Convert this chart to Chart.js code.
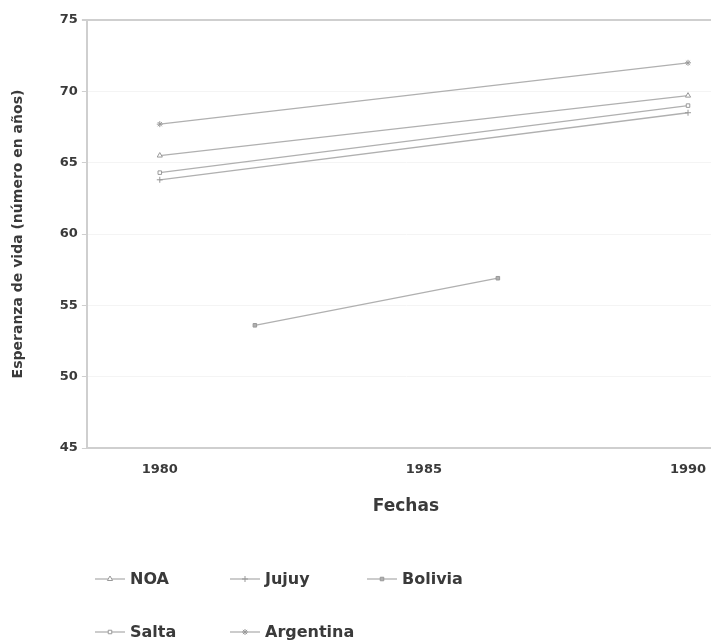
<!DOCTYPE html>
<html><head><meta charset="utf-8">
<script src="https://cdn.jsdelivr.net/npm/chart.js@4.4.1/dist/chart.umd.min.js"></script>
<style>html,body{margin:0;padding:0;background:#fff;overflow:hidden}#wrap{width:711px;height:641px;position:relative;overflow:hidden}</style>
</head><body><div id="wrap"><canvas id="c" width="730" height="641"></canvas></div>
<script>
const seriesNames = ["NOA", "Jujuy", "Bolivia", "Salta", "Argentina"];
const yearsMain = [1980, 1990];
const yearsBolivia = [1981.8, 1986.4];
const noaValues = [65.5, 69.7];
const jujuyValues = [63.8, 68.5];
const boliviaValues = [53.6, 56.9];
const saltaValues = [64.3, 69.0];
const argentinaValues = [67.7, 72.0];
const xTickValues = [1980, 1985, 1990];
const yTickValues = [45, 50, 55, 60, 65, 70, 75];

const lineColor = '#b0b0b0';
const textColor = '#3a3a3a';
const FONT = "'DejaVu Sans', sans-serif";

function pts(xs, ys){ return xs.map((x,i)=>({x:x, y:ys[i]})); }
const styles = [
  {pointStyle:'triangle', radius:3, fill:'#fff'},
  {pointStyle:'cross', radius:3, fill:'#fff'},
  {pointStyle:'rect', radius:2.5, fill:lineColor},
  {pointStyle:'rect', radius:2.5, fill:'#fff'},
  {pointStyle:'star', radius:3, fill:'#fff'}
];
const dataArrays = [pts(yearsMain,noaValues), pts(yearsMain,jujuyValues), pts(yearsBolivia,boliviaValues), pts(yearsMain,saltaValues), pts(yearsMain,argentinaValues)];

const datasets = seriesNames.map((n,i)=>({
  label:n, data:dataArrays[i], borderColor:lineColor, borderWidth:1.3,
  pointStyle:styles[i].pointStyle, pointRadius:styles[i].radius, pointBorderColor:'#999',
  pointBackgroundColor:styles[i].fill, pointBorderWidth:1, showLine:true, fill:false, tension:0
}));

const legendPos = [[95,579],[230,579],[367,579],[95,632],[230,632]];
const legendPlugin = {
  id:'customLegend',
  afterDraw(chart){
    const ctx = chart.ctx;
    ctx.save();
    chart.data.datasets.forEach((ds,i)=>{
      const [x,y] = legendPos[i];
      ctx.strokeStyle = lineColor; ctx.lineWidth = 1.3;
      ctx.beginPath(); ctx.moveTo(x,y); ctx.lineTo(x+30,y); ctx.stroke();
      ctx.fillStyle = ds.pointBackgroundColor; ctx.strokeStyle = ds.pointBorderColor; ctx.lineWidth = 1;
      Chart.helpers.drawPoint(ctx, {pointStyle:ds.pointStyle, radius:ds.pointRadius, borderWidth:1, rotation:0}, x+15, y);
      ctx.fillStyle = textColor; ctx.font = "bold 16px " + FONT; ctx.textBaseline = 'middle'; ctx.textAlign='left';
      ctx.fillText(ds.label, x+35, y+1);
    });
    ctx.restore();
  }
};

new Chart(document.getElementById('c'), {
  type:'scatter',
  data:{datasets},
  options:{
    responsive:false, animation:false, devicePixelRatio:1,
    layout:{padding:{left:10, right:0, top:20, bottom:124}},
    plugins:{legend:{display:false}, tooltip:{enabled:false}},
    scales:{
      x:{type:'linear', min:1978.62, max:1990.70,
        afterBuildTicks(s){ s.ticks = xTickValues.map(v=>({value:v})); },
        grid:{display:false, drawTicks:false},
        border:{display:true, color:'#cfcfcf', width:2},
        ticks:{color:textColor, font:{family:FONT, size:13, weight:'bold'}, padding:14, maxRotation:0, callback:v=>String(v)},
        title:{display:true, text:'Fechas', color:textColor, font:{family:FONT, size:17, weight:'bold'}, padding:{top:5, bottom:0}}
      },
      y:{type:'linear', min:45, max:75,
        afterBuildTicks(s){ s.ticks = yTickValues.map(v=>({value:v})); },
        grid:{drawOnChartArea:true, drawTicks:true, tickLength:5,
          color:c=> (c.tick && c.tick.value===75) ? '#cfcfcf' : '#f4f4f4',
          tickColor:'#cfcfcf', lineWidth:c=> (c.tick && c.tick.value===75) ? 2 : 1},
        border:{display:true, color:'#cfcfcf', width:2},
        ticks:{color:textColor, font:{family:FONT, size:13, weight:'bold'}, padding:4},
        title:{display:true, text:'Esperanza de vida (número en años)', color:textColor, font:{family:FONT, size:14, weight:'bold'}, padding:{top:0, bottom:29}}
      }
    }
  },
  plugins:[legendPlugin]
});
</script></body></html>
